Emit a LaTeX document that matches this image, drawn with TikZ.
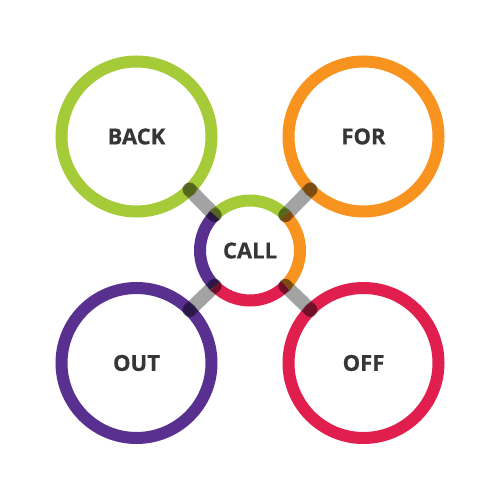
\documentclass[tikz,border=0pt]{standalone}
\usepackage{fontspec}
\setmainfont{Open Sans}
\newfontfamily\heavy[FakeBold=0.6]{Open Sans}
\definecolor{cgreen}{HTML}{A5CB39}
\definecolor{corange}{HTML}{F7931E}
\definecolor{cpurple}{HTML}{59308F}
\definecolor{cred}{HTML}{E01F4F}
\definecolor{ctext}{HTML}{363636}
\tikzset{
  ring/.style={circle, draw=#1, line width=12pt, minimum size=150pt, inner sep=0pt, outer sep=0pt,
    text=ctext, font=\heavy\bfseries\fontsize{22}{22}\selectfont},
  hub/.style={circle, minimum size=100pt, inner sep=0pt, outer sep=0pt,
    text=ctext, font=\heavy\bfseries\fontsize{22}{22}\selectfont},
  arcseg/.style={draw=#1, line width=12pt},
  bar/.style={draw=black, draw opacity=0.36, line width=14pt, line cap=round},
  capdot/.style={fill=black, fill opacity=0.2}
}
\begin{document}
\begin{tikzpicture}[x=1pt,y=1pt]
\fill[white] (0,0) rectangle (500,500);
\useasboundingbox (0,0) rectangle (500,500);
\node[ring=cgreen]  (back) at (136.5,363.5) {BACK};
\node[ring=corange] (for)  at (363.5,363.5) {FOR};
\node[ring=cpurple] (out)  at (136.5,137) {OUT};
\node[ring=cred]    (off)  at (363.5,137) {OFF};
\node[hub] (call) at (250,249.5) {CALL};
\draw[arcseg=cgreen]  (call.135) arc[start angle=135, end angle=45, radius=50];
\draw[arcseg=corange] (call.45) arc[start angle=45, end angle=-45, radius=50];
\draw[arcseg=cred]    (call.-45) arc[start angle=-45, end angle=-135, radius=50];
\draw[arcseg=cpurple] (call.-135) arc[start angle=-135, end angle=-225, radius=50];
\draw[bar] (call.135) -- (back.-45);
\draw[bar] (call.45) -- (for.-135);
\draw[bar] (call.-135) -- (out.45);
\draw[bar] (call.-45) -- (off.135);
\foreach \a/\n/\b in {135/back/-45, 45/for/-135, -135/out/45, -45/off/135}{
  \fill[capdot] (call.\a) circle[radius=7];
  \fill[capdot] (\n.\b) circle[radius=7];
}
\end{tikzpicture}
\end{document}
